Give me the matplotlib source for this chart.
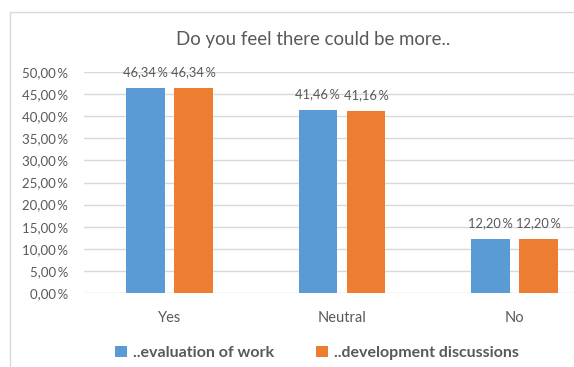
import numpy as np
import matplotlib.pyplot as plt
from matplotlib.patches import Rectangle

categories = ['Yes', 'Neutral', 'No']
evaluation = [46.34, 41.46, 12.20]
development = [46.34, 41.16, 12.20]
series_names = ['..evaluation of work', '..development discussions']
yticks = [0, 5, 10, 15, 20, 25, 30, 35, 40, 45, 50]


def fmt(v):
    return f'{v:.2f}'.replace('.', ',') + '\u2009%'


def main():
    plt.rcParams['font.family'] = ['Lato', 'DejaVu Sans']
    grey = '#595959'

    fig = plt.figure(figsize=(5.74, 3.67), dpi=100)
    ax = fig.add_axes([83.5 / 574, 74 / 367, 517 / 574, 221 / 367])

    x = np.arange(len(categories))
    w = 0.224
    off = 0.14
    b1 = ax.bar(x - off, evaluation, w, color='#5B9BD5', label=series_names[0], zorder=3)
    b2 = ax.bar(x + off, development, w, color='#ED7D31', label=series_names[1], zorder=3)

    for bars, vals in ((b1, evaluation), (b2, development)):
        for rect, v in zip(bars, vals):
            ax.annotate(fmt(v), (rect.get_x() + rect.get_width() / 2, v),
                        xytext=(0, 7), textcoords='offset points',
                        ha='center', va='bottom', fontsize=9.3, color=grey)

    ax.set_xlim(-0.5, 2.5)
    ax.set_ylim(0, 50)
    ax.set_yticks(yticks)
    ax.set_yticklabels([fmt(v) for v in yticks])
    ax.set_xticks(x)
    ax.set_xticklabels(categories)
    ax.tick_params(axis='y', length=0, pad=11, labelsize=9.5, labelcolor=grey)
    ax.tick_params(axis='x', length=0, pad=13, labelsize=10.5, labelcolor=grey)
    ax.grid(axis='y', color='#D9D9D9', linewidth=1, zorder=0)
    for s in ax.spines.values():
        s.set_visible(False)

    fig.text(313 / 574, 1 - 40 / 367, 'Do you feel there could be more..',
             ha='center', va='center', fontsize=13.4, color=grey)

    leg = fig.legend(loc='center', bbox_to_anchor=(317 / 574, 1 - 353 / 367),
                     ncol=2, frameon=False, handlelength=0.75, handleheight=0.75,
                     columnspacing=2.6, handletextpad=0.4,
                     prop={'weight': 'bold', 'size': 11.5})
    for t in leg.get_texts():
        t.set_color(grey)

    fig.add_artist(Rectangle((9.5 / 574, -0.1), 2, (367 - 12) / 367 + 0.1,
                             transform=fig.transFigure, fill=False,
                             ec='#D9D9D9', lw=1))

    fig.savefig('out.png', dpi=100)


if __name__ == "__main__":
    main()
